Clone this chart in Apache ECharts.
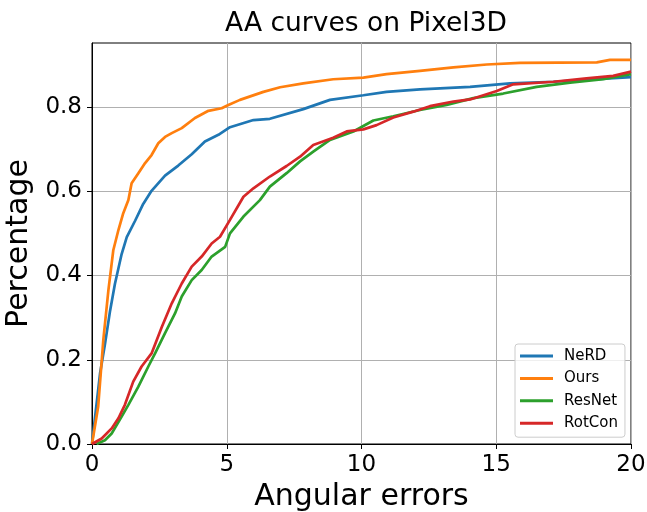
<!DOCTYPE html>
<html>
<head>
<meta charset="utf-8">
<script src="https://cdn.jsdelivr.net/npm/echarts@6/dist/echarts.min.js"></script>
<style>
html,body{margin:0;padding:0;background:#fff;}
#chart{width:647px;height:512px;}
</style>
</head>
<body>
<div id="chart"></div>
<script>
// AA curves, [angular error, percentage]
var nerdData = [[0,0],[0.30,0.168],[0.48,0.237],[0.67,0.316],[0.85,0.380],[1.10,0.451],[1.29,0.491],[1.60,0.530],[1.90,0.570],[2.21,0.601],[2.71,0.637],[3.20,0.661],[3.70,0.688],[4.19,0.718],[4.69,0.734],[5.12,0.752],[5.99,0.769],[6.60,0.772],[7.84,0.795],[8.83,0.817],[10.07,0.828],[10.93,0.836],[12.17,0.842],[14.03,0.848],[15.51,0.856],[17.12,0.860],[20,0.871]];
var oursData = [[0,0],[0.23,0.089],[0.42,0.247],[0.61,0.366],[0.79,0.46],[0.98,0.508],[1.16,0.548],[1.35,0.579],[1.47,0.619],[1.72,0.643],[1.97,0.667],[2.21,0.686],[2.46,0.714],[2.71,0.729],[2.96,0.738],[3.33,0.750],[3.82,0.774],[4.32,0.791],[4.81,0.797],[5.06,0.805],[5.49,0.817],[6.36,0.836],[6.98,0.847],[7.84,0.856],[8.95,0.866],[10.07,0.870],[10.93,0.878],[12.17,0.886],[13.41,0.894],[14.65,0.901],[15.88,0.905],[18.73,0.906],[19.22,0.912],[20,0.912]];
var resnetData = [[0.17,0],[0.48,0.009],[0.73,0.025],[1.10,0.065],[1.35,0.093],[1.72,0.136],[2.09,0.184],[2.34,0.215],[2.71,0.263],[3.08,0.310],[3.33,0.350],[3.70,0.389],[4.07,0.413],[4.44,0.445],[4.94,0.468],[5.12,0.500],[5.62,0.540],[6.23,0.579],[6.60,0.611],[7.22,0.643],[7.72,0.671],[8.21,0.694],[8.83,0.722],[9.70,0.742],[10.44,0.768],[11.18,0.778],[12.17,0.793],[13.16,0.805],[14.15,0.821],[15.26,0.832],[16.50,0.848],[17.74,0.858],[18.97,0.866],[20,0.878]];
var rotconData = [[0,0],[0.36,0.013],[0.73,0.037],[0.98,0.061],[1.22,0.093],[1.53,0.148],[1.84,0.184],[2.21,0.215],[2.59,0.278],[2.96,0.334],[3.33,0.381],[3.70,0.421],[4.07,0.445],[4.44,0.476],[4.75,0.492],[5.12,0.532],[5.62,0.587],[5.99,0.607],[6.60,0.635],[7.22,0.660],[7.72,0.682],[8.21,0.710],[8.95,0.727],[9.45,0.742],[10.07,0.747],[10.56,0.757],[11.18,0.775],[11.92,0.789],[12.54,0.802],[13.41,0.813],[14.03,0.818],[15.02,0.838],[15.63,0.854],[17.12,0.860],[18.35,0.868],[19.34,0.874],[20,0.884]];

var names = ['NeRD', 'Ours', 'ResNet', 'RotCon'];
var colors = ['#1f77b4', '#ff7f0e', '#2ca02c', '#d62728'];
var allData = [nerdData, oursData, resnetData, rotconData];
var xTicks = [0, 5, 10, 15, 20];
var yTicks = [0, 0.2, 0.4, 0.6, 0.8];

var font = 'DejaVu Sans';
var myChart = echarts.init(document.getElementById('chart'), null, {renderer: 'canvas'});

var series = [];
for (var i = 0; i < names.length; i++) {
	series.push({
		name: names[i],
		type: 'line',
		data: allData[i],
		showSymbol: false,
		symbol: 'none',
		lineStyle: {color: colors[i], width: 2.7},
		itemStyle: {color: colors[i]},
		animation: false
	});
}

var option = {
	animation: false,
	color: colors,
	title: {
		text: 'AA curves on Pixel3D',
		left: 361,
		top: 6,
		textAlign: 'center',
		textStyle: {fontFamily: font, fontSize: 26.5, fontWeight: 'normal', color: '#000'}
	},
	grid: {
		left: 92, right: 16, top: 43, bottom: 68,
		show: true, borderColor: '#000', borderWidth: 1,
		containLabel: false,
		outerBoundsMode: 'none'
	},
	legend: {
		orient: 'vertical',
		left: 515, top: 344,
		data: names,
		icon: 'rect',
		itemWidth: 33, itemHeight: 3,
		itemGap: 6.4,
		padding: [4, 7, 6, 5],
		borderColor: '#cccccc', borderWidth: 1, borderRadius: 3,
		backgroundColor: 'rgba(255,255,255,0.8)',
		textStyle: {fontFamily: font, fontSize: 15, color: '#000', lineHeight: 16, padding: [0, 0, 0, 6]}
	},
	xAxis: {
		type: 'value',
		min: 0, max: 20, interval: 5,
		name: 'Angular errors',
		nameLocation: 'middle',
		nameGap: 35,
		nameTextStyle: {fontFamily: font, fontSize: 30, color: '#000'},
		axisLine: {show: true, onZero: false, lineStyle: {color: '#000', width: 1}},
		axisTick: {show: true, length: 5, customValues: xTicks, lineStyle: {color: '#000'}},
		axisLabel: {fontFamily: font, fontSize: 23, color: '#000', margin: 10, customValues: xTicks},
		splitLine: {show: true, lineStyle: {color: '#b0b0b0', width: 1}}
	},
	yAxis: {
		type: 'value',
		min: 0, max: 0.952, interval: 0.2,
		name: 'Percentage',
		nameLocation: 'middle',
		nameGap: 58,
		nameMoveOverlap: false,
		nameTextStyle: {fontFamily: font, fontSize: 30, color: '#000'},
		axisLine: {show: true, onZero: false, lineStyle: {color: '#000', width: 1}},
		axisTick: {show: true, length: 5, customValues: yTicks, lineStyle: {color: '#000'}},
		axisLabel: {
			fontFamily: font, fontSize: 23, color: '#000', margin: 10,
			customValues: yTicks,
			formatter: function (v) {
				return v.toFixed(1);
			}
		},
		splitLine: {show: true, lineStyle: {color: '#b0b0b0', width: 1}}
	},
	series: series
};

myChart.setOption(option, true);
</script>
</body>
</html>
